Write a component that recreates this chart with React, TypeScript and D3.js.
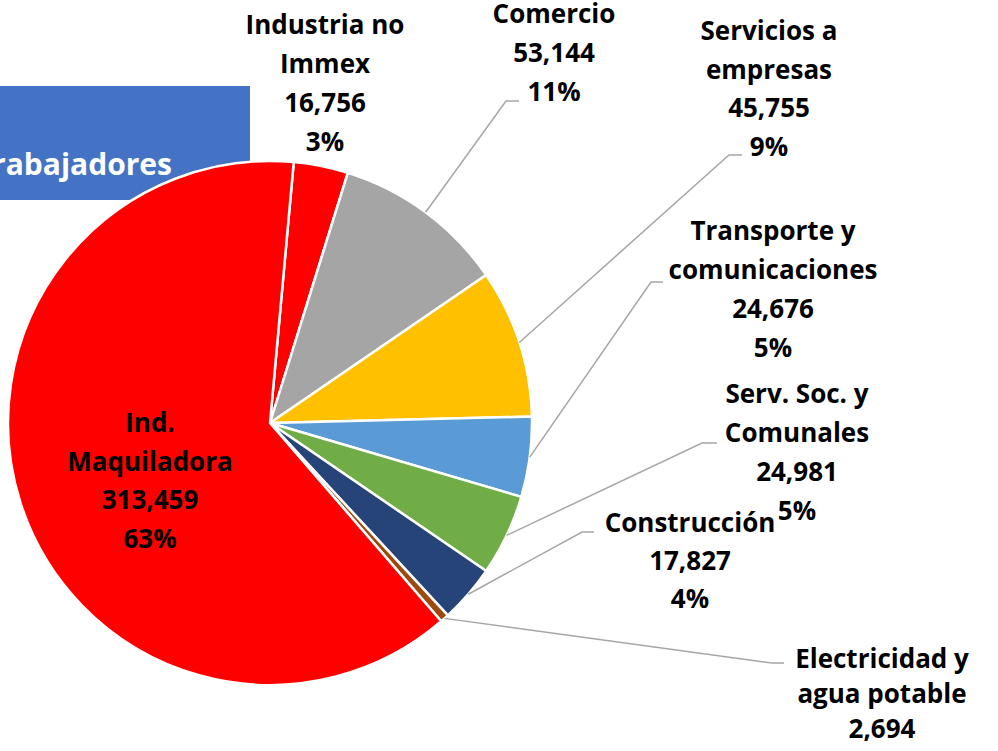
import { useRef, useEffect } from 'react'
import * as d3 from 'd3'

const sectors = [
  'Industria no|Immex',
  'Comercio',
  'Servicios a|empresas',
  'Transporte y|comunicaciones',
  'Serv. Soc. y|Comunales',
  'Construcción',
  'Electricidad y|agua potable',
  'Ind.|Maquiladora',
]
const workers = [16756, 53144, 45755, 24676, 24981, 17827, 2694, 313459]
const sliceColors = ['#FF0000', '#A5A5A5', '#FFC000', '#5B9BD5', '#70AD47', '#264478', '#9E480E', '#FF0000']
const titleText = 'Trabajadores'

// label anchor (center x, first baseline y, line height) and leader elbow/end
const labelPos = [
  { x: 325, y: 34, lh: 39, elbow: null },
  { x: 554, y: 23, lh: 39, elbow: [[506, 101], [519, 101]] },
  { x: 769, y: 40, lh: 38.5, elbow: [[729, 155], [742, 155]] },
  { x: 773, y: 240, lh: 39, elbow: [[651, 282], [663, 282]] },
  { x: 797, y: 403, lh: 39, elbow: [[702, 443], [717, 443]] },
  { x: 690, y: 532, lh: 38, elbow: [[582, 532], [594, 532]] },
  { x: 882, y: 668, lh: 35, elbow: [[772, 663], [784, 663]] },
  { x: 150, y: 432, lh: 38.7, elbow: null },
]

const W = 998
const H = 751

const App = () => {
  const svgRef = useRef<SVGSVGElement>(null)

  useEffect(() => {
    const svg = d3.select(svgRef.current)
    svg.selectAll('*').remove()

    const cx = 270
    const cy = 423
    const r = 262
    const total = d3.sum(workers)
    const start = (5.2 * Math.PI) / 180

    // title box behind the pie
    svg.append('rect').attr('x', 0).attr('y', 86).attr('width', 250).attr('height', 114).attr('fill', '#4472C4')
    svg
      .append('text')
      .text(titleText)
      .attr('x', 172)
      .attr('y', 175)
      .attr('text-anchor', 'end')
      .style('font-family', '"Open Sans", sans-serif')
      .style('font-weight', 700)
      .style('font-size', '30px')
      .style('fill', '#ffffff')

    const data = sectors.map((s, i) => ({ name: s, value: workers[i], id: i }))
    const pie = d3
      .pie<any>()
      .sort(null)
      .value((d) => d.value)
      .startAngle(start)
      .endAngle(start + Math.PI * 2)
    const arcs = pie(data)
    const arc = d3.arc<any>().innerRadius(0).outerRadius(r)
    const edge = d3.arc<any>().innerRadius(r).outerRadius(r)

    const g = svg.append('g').attr('transform', `translate(${cx}, ${cy})`)
    g.selectAll('path')
      .data(arcs)
      .join('path')
      .attr('d', arc)
      .style('fill', (d: any) => sliceColors[d.data.id])
      .style('stroke', '#ffffff')
      .style('stroke-width', 2.5)
      .style('stroke-linejoin', 'round')

    // leader lines
    arcs.forEach((a: any, i) => {
      const pos = labelPos[i]
      if (!pos.elbow) return
      const [px, py] = edge.centroid(a)
      const pts: [number, number][] = [[cx + px, cy + py], ...(pos.elbow as [number, number][])]
      svg
        .append('path')
        .attr('d', d3.line()(pts))
        .style('fill', 'none')
        .style('stroke', '#A6A6A6')
        .style('stroke-width', 1.5)
    })

    // labels
    arcs.forEach((a: any, i) => {
      const pos = labelPos[i]
      const lines = [...a.data.name.split('|'), d3.format(',')(a.data.value), Math.round((a.data.value / total) * 100) + '%']
      const t = svg
        .append('text')
        .attr('text-anchor', 'middle')
        .style('font-family', '"Open Sans", sans-serif')
        .style('font-weight', 700)
        .style('font-size', '26px')
        .style('fill', '#000000')
      lines.forEach((ln, k) => {
        t.append('tspan').attr('x', pos.x).attr('y', pos.y + k * pos.lh).text(ln)
      })
    })
  }, [])

  return (
    <div style={{ position: 'absolute', left: 0, top: 0, width: W, height: H, background: '#ffffff' }}>
      <svg ref={svgRef} width={W} height={H} style={{ display: 'block' }}></svg>
    </div>
  )
}

export default App
